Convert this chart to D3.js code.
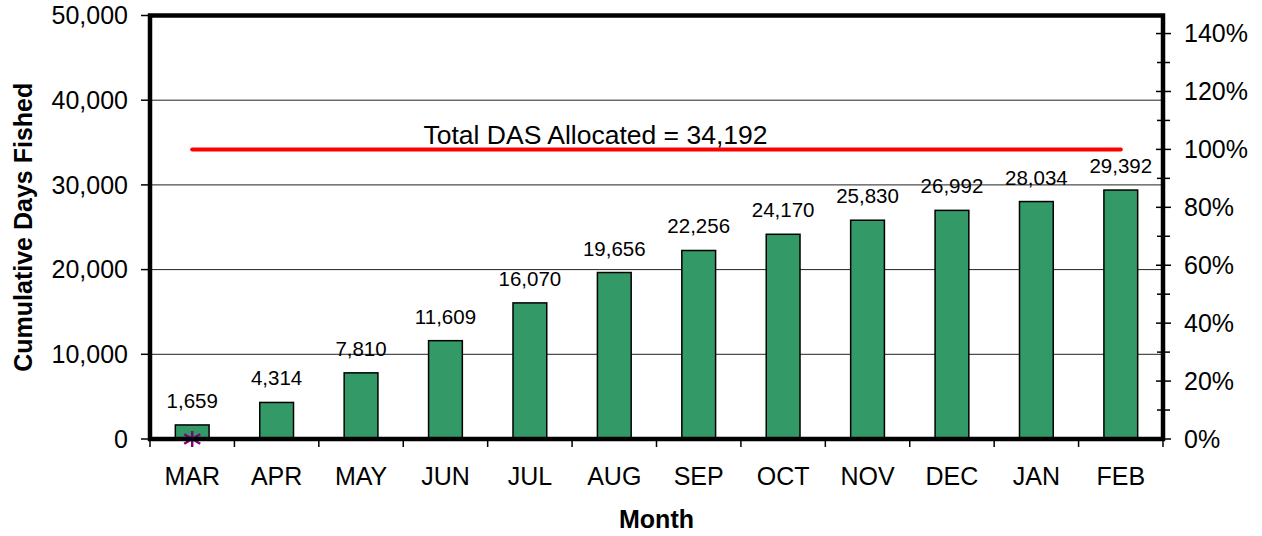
<!DOCTYPE html>
<html>
<head>
<meta charset="utf-8">
<script src="https://cdn.jsdelivr.net/npm/d3@7"></script>
<style>
  body { margin: 0; background: #fff; }
  svg { display: block; font-family: "Liberation Sans", Arial, sans-serif; }
</style>
</head>
<body>
<script>
// Data
const months = ["MAR", "APR", "MAY", "JUN", "JUL", "AUG", "SEP", "OCT", "NOV", "DEC", "JAN", "FEB"];
const cumDays = [1659, 4314, 7810, 11609, 16070, 19656, 22256, 24170, 25830, 26992, 28034, 29392];
const allocated = 34192;
const allocLabel = "Total DAS Allocated = 34,192";
const markerMonths = ["MAR"];
const markerValues = [0];
const leftTicks = [0, 10000, 20000, 30000, 40000, 50000];
const rightTicks = [0, 0.2, 0.4, 0.6, 0.8, 1.0, 1.2, 1.4];
const rightMinor = [0.1, 0.3, 0.5, 0.7, 0.9, 1.1, 1.3];

// SVG variables
const width = 1262,
    height = 536;
const margin = {top: 15.5, right: 99, bottom: 97, left: 150};
const innerW = width - margin.left - margin.right,
    innerH = height - margin.top - margin.bottom;

const svg = d3.select("body").append("svg")
    .attr("width", width)
    .attr("height", height);

const g = svg.append("g")
    .attr("transform", `translate(${margin.left},${margin.top})`);

const x = d3.scaleBand().domain(months).range([0, innerW]).padding(0);
const y = d3.scaleLinear().domain([0, 50000]).range([innerH, 0]);
const yPct = d3.scaleLinear().domain([0, 50000 / allocated]).range([innerH, 0]);

const fmt = d3.format(",");

// gridlines
g.append("g").selectAll("line")
    .data(leftTicks.slice(1, -1))
    .join("line")
    .attr("x1", 0).attr("x2", innerW)
    .attr("y1", d => y(d)).attr("y2", d => y(d))
    .attr("stroke", "#222")
    .attr("stroke-width", 1);

// bars
const barW = x.bandwidth() * 0.4;
g.append("g").selectAll("rect")
    .data(cumDays)
    .join("rect")
    .attr("x", (d, i) => x(months[i]) + (x.bandwidth() - barW) / 2)
    .attr("y", d => y(d))
    .attr("width", barW)
    .attr("height", d => innerH - y(d))
    .attr("fill", "#339966")
    .attr("stroke", "#000")
    .attr("stroke-width", 1.5);

// value labels
g.append("g").selectAll("text")
    .data(cumDays)
    .join("text")
    .attr("x", (d, i) => x(months[i]) + x.bandwidth() / 2)
    .attr("y", d => y(d) - 17)
    .attr("text-anchor", "middle")
    .attr("font-size", 20.5)
    .text(d => fmt(d));

// allocation line
const cx = m => x(m) + x.bandwidth() / 2;
g.append("line")
    .attr("x1", cx(months[0])).attr("x2", cx(months[months.length - 1]))
    .attr("y1", y(allocated)).attr("y2", y(allocated))
    .attr("stroke", "#ff0000")
    .attr("stroke-width", 4)
    .attr("stroke-linecap", "round");

g.append("text")
    .attr("x", innerW * 0.27)
    .attr("y", y(allocated) - 5)
    .attr("font-size", 26.5)
    .text(allocLabel);

// marker (asterisk)
const mk = g.append("g").selectAll("g")
    .data(markerValues)
    .join("g")
    .attr("transform", (d, i) => `translate(${cx(markerMonths[i])},${y(d)})`);
const r = 8;
[[0, -r, 0, r], [-r, -r * 0.6, r, r * 0.6], [-r, r * 0.6, r, -r * 0.6]].forEach(([a, b, c, e]) => {
  mk.append("line")
      .attr("x1", a).attr("y1", b).attr("x2", c).attr("y2", e)
      .attr("stroke", "#800080")
      .attr("stroke-width", 2.5);
});

// frame
g.append("rect")
    .attr("x", 0).attr("y", 0)
    .attr("width", innerW).attr("height", innerH)
    .attr("fill", "none")
    .attr("stroke", "#000")
    .attr("stroke-width", 4.5);

// left axis
const leftAxis = g.append("g");
leftAxis.selectAll("line")
    .data(leftTicks)
    .join("line")
    .attr("x1", -9).attr("x2", 0)
    .attr("y1", d => y(d)).attr("y2", d => y(d))
    .attr("stroke", "#000").attr("stroke-width", 1.5);
leftAxis.selectAll("text")
    .data(leftTicks)
    .join("text")
    .attr("x", -22)
    .attr("y", d => y(d))
    .attr("dy", "0.35em")
    .attr("text-anchor", "end")
    .attr("font-size", 25)
    .text(d => fmt(d));

// right axis
const rightAxis = g.append("g").attr("transform", `translate(${innerW},0)`);
rightAxis.selectAll("line.major")
    .data(rightTicks)
    .join("line")
    .attr("class", "major")
    .attr("x1", -7).attr("x2", 8)
    .attr("y1", d => yPct(d)).attr("y2", d => yPct(d))
    .attr("stroke", "#000").attr("stroke-width", 1.5);
rightAxis.selectAll("line.minor")
    .data(rightMinor)
    .join("line")
    .attr("class", "minor")
    .attr("x1", -6).attr("x2", 7)
    .attr("y1", d => yPct(d)).attr("y2", d => yPct(d))
    .attr("stroke", "#000").attr("stroke-width", 1.5);
rightAxis.selectAll("text")
    .data(rightTicks)
    .join("text")
    .attr("x", 21)
    .attr("y", d => yPct(d))
    .attr("dy", "0.35em")
    .attr("font-size", 25)
    .text(d => d3.format(".0%")(d));

// bottom axis
const bottomAxis = g.append("g").attr("transform", `translate(0,${innerH})`);
bottomAxis.selectAll("line")
    .data(d3.range(months.length + 1))
    .join("line")
    .attr("x1", i => i * x.bandwidth()).attr("x2", i => i * x.bandwidth())
    .attr("y1", 0).attr("y2", 8)
    .attr("stroke", "#000").attr("stroke-width", 1.5);
bottomAxis.selectAll("text")
    .data(months)
    .join("text")
    .attr("x", d => cx(d))
    .attr("y", 46)
    .attr("text-anchor", "middle")
    .attr("font-size", 25)
    .text(d => d);

// axis titles
svg.append("text")
    .attr("transform", `translate(32,${margin.top + innerH / 2}) rotate(-90)`)
    .attr("text-anchor", "middle")
    .attr("font-size", 25)
    .attr("font-weight", "bold")
    .text("Cumulative Days Fished");

svg.append("text")
    .attr("x", margin.left + innerW / 2)
    .attr("y", 528)
    .attr("text-anchor", "middle")
    .attr("font-size", 25)
    .attr("font-weight", "bold")
    .text("Month");
</script>
</body>
</html>
